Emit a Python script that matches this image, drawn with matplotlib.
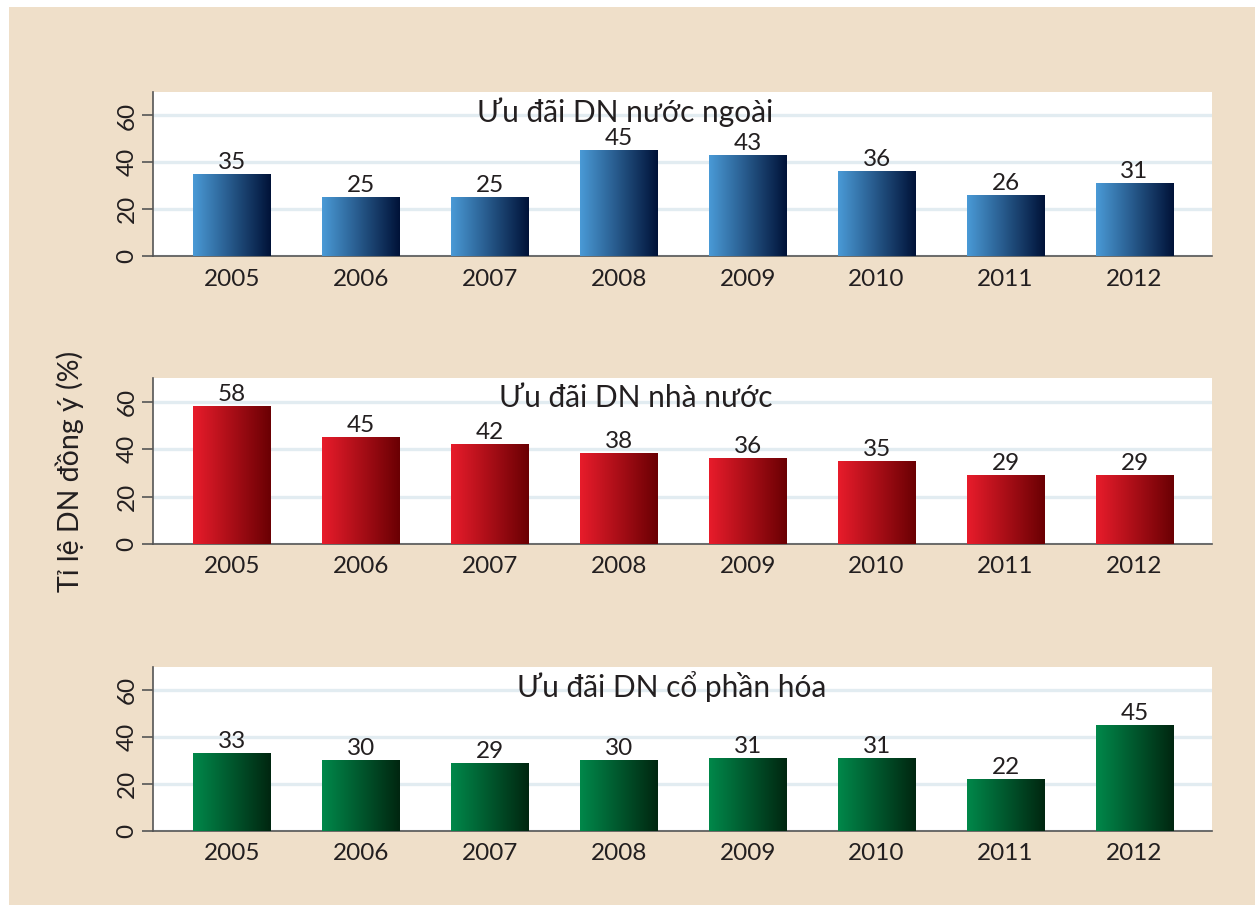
import numpy as np
import matplotlib
matplotlib.use("Agg")
import matplotlib.pyplot as plt
from matplotlib.patches import Rectangle
from matplotlib.colors import LinearSegmentedColormap

plt.rcParams['font.family'] = ['Lato', 'DejaVu Sans']

years = ['2005', '2006', '2007', '2008', '2009', '2010', '2011', '2012']
nuoc_ngoai = [35, 25, 25, 45, 43, 36, 26, 31]
nha_nuoc = [58, 45, 42, 38, 36, 35, 29, 29]
co_phan_hoa = [33, 30, 29, 30, 31, 31, 22, 45]

titles = ['Ưu đãi DN nước ngoài', 'Ưu đãi DN nhà nước', 'Ưu đãi DN cổ phần hóa']
series = [nuoc_ngoai, nha_nuoc, co_phan_hoa]
grads = [('#4A9AD6', '#001238'), ('#E81C2B', '#6A0003'), ('#00884A', '#002610')]
title_x = [3.05, 3.13, 3.41]

text_col = '#231F20'
bg = '#EFDFC9'

fig = plt.figure(figsize=(12.55, 9.06), dpi=100)
fig.patch.set_facecolor('white')
fig.patches.append(Rectangle((9 / 1255, 1 / 906), 1 - 9 / 1255, 1 - 8 / 906,
                             transform=fig.transFigure, facecolor=bg,
                             edgecolor='none', zorder=-1))

# vị trí các ô biểu đồ (bottom, height) theo tỉ lệ hình
boxes = [(0.7174, 0.181), (0.3996, 0.1832), (0.0828, 0.181)]
left, width = 0.1219, 0.8438

x = np.arange(len(years))
bw = 0.6
for i, (vals, title, (c0, c1), tx) in enumerate(zip(series, titles, grads, title_x)):
    ax = fig.add_axes([left, boxes[i][0], width, boxes[i][1]])
    ax.set_facecolor('white')
    cmap = LinearSegmentedColormap.from_list('g%d' % i, [c0, c1])
    grad = np.linspace(0, 1, 256).reshape(1, -1)
    bars = ax.bar(x, vals, width=bw, color='none', zorder=3)
    for b, v in zip(bars, vals):
        x0 = b.get_x()
        ax.imshow(grad, cmap=cmap, aspect='auto', zorder=3,
                  extent=(x0, x0 + b.get_width(), 0, b.get_height()))
        ax.text(b.get_x() + b.get_width() / 2, v + 0.6, str(v),
                ha='center', va='bottom', fontsize=17.5, color=text_col, zorder=4)
    ax.text(tx, 61.5, title, ha='center', va='center', fontsize=21.5,
            color=text_col, zorder=4)
    ax.set_xlim(-0.61, 7.6)
    ax.set_ylim(0, 70)
    ax.set_yticks([0, 20, 40, 60])
    ax.set_xticks(x)
    ax.set_xticklabels(years)
    ax.yaxis.grid(True, color='#E2ECF1', linewidth=2.4, zorder=1)
    ax.set_axisbelow(True)
    for s in ['top', 'right']:
        ax.spines[s].set_visible(False)
    for s in ['left', 'bottom']:
        ax.spines[s].set_color('#555555')
        ax.spines[s].set_linewidth(1.2)
    ax.tick_params(axis='x', length=0, pad=9, labelsize=17.5, colors=text_col)
    ax.tick_params(axis='y', length=8, width=1.2, color='#555555', pad=3,
                   labelsize=17.5, labelcolor=text_col)
    for lab in ax.get_yticklabels():
        lab.set_rotation(90)
        lab.set_va('center')

fig.text(70 / 1255, 1 - 471 / 906, 'Tỉ lệ DN đồng ý (%)', rotation=90,
         ha='center', va='center', fontsize=20.5, color=text_col)

fig.savefig('out.png', dpi=100, facecolor=fig.get_facecolor())
